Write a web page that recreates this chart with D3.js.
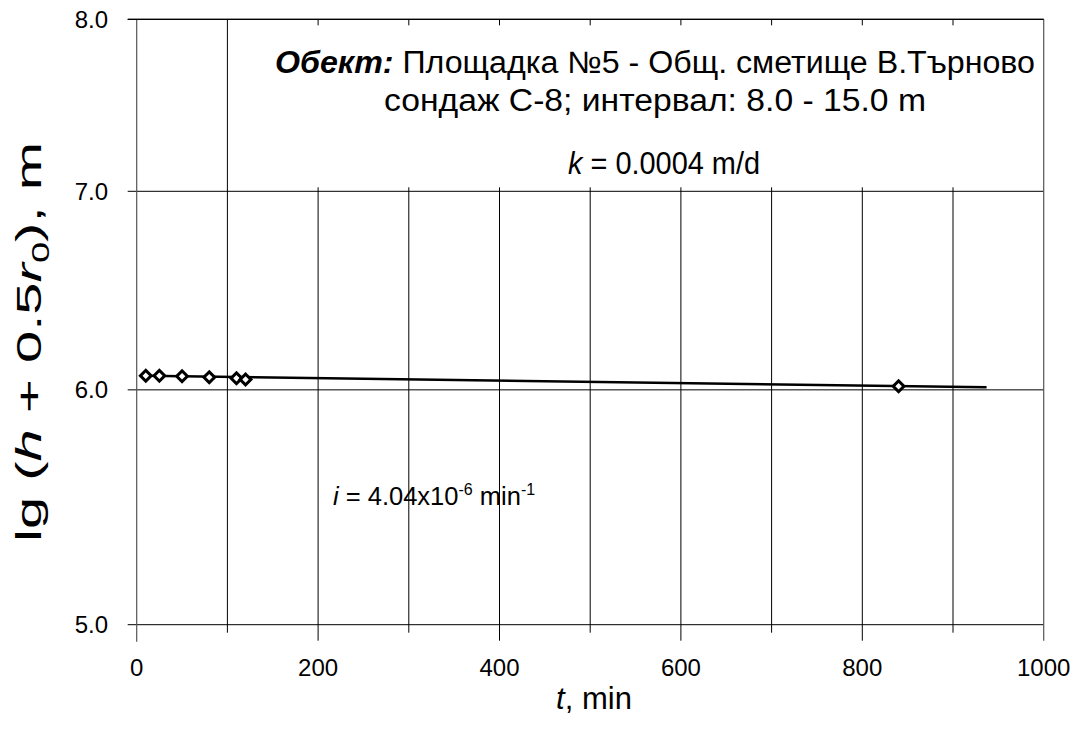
<!DOCTYPE html>
<html>
<head>
<meta charset="utf-8">
<script src="https://cdn.jsdelivr.net/npm/d3@7"></script>
<style>
  html, body { margin: 0; padding: 0; background: #fff; }
  svg { display: block; font-family: "Liberation Sans", Arial, sans-serif; }
</style>
</head>
<body>
<svg id="chart" width="1080" height="731"></svg>
<script>
// Measured times (min) and lg(h + 0.5 r0) values
const times = [10, 25, 50, 80, 110, 120, 840];
const levels = [6.066, 6.066, 6.064, 6.059, 6.054, 6.048, 6.017];

// Fitted trend line end points
const trendTimes = [10, 937];
const trendLevels = [6.066, 6.012];

// Axis ticks
const xTicks = [0, 200, 400, 600, 800, 1000];
const xGrid = [100, 200, 300, 400, 500, 600, 700, 800, 900];
const yTicks = [5, 6, 7, 8];
const yTickLabels = ["5.0", "6.0", "7.0", "8.0"];

const svg = d3.select("#chart");

const x = d3.scaleLinear().domain([0, 1000]).range([136.7, 1043.7]);
const y = d3.scaleLog().domain([5, 8]).range([624.7, 19.3]);

const yTop = y(8), yBot = y(5), xL = x(0), xR = x(1000);

// vertical grid lines, extended below the axis as tick marks
svg.append("g").selectAll("line").data(xGrid).join("line")
  .attr("x1", d => x(d)).attr("x2", d => x(d))
  .attr("y1", yTop)
  .attr("y2", d => yBot + (d % 200 === 0 ? 16 : 8))
  .attr("stroke", "#000").attr("stroke-width", 1);

// horizontal grid lines with outside ticks on the left
svg.append("g").selectAll("line").data(yTicks).join("line")
  .attr("x1", xL - 9).attr("x2", xR)
  .attr("y1", d => y(d)).attr("y2", d => y(d))
  .attr("stroke", "#000").attr("stroke-width", 1);

// white annotation panel in the upper part of the plot
svg.append("rect")
  .attr("x", 262).attr("y", yTop + 6)
  .attr("width", xR - 4 - 262).attr("height", y(7) - 4 - (yTop + 6))
  .attr("fill", "#fff");

// left axis and right border
svg.append("line")
  .attr("x1", xL).attr("x2", xL).attr("y1", yTop).attr("y2", yBot + 17)
  .attr("stroke", "#555").attr("stroke-width", 1.2);
svg.append("line")
  .attr("x1", xR).attr("x2", xR).attr("y1", yTop).attr("y2", yBot + 16)
  .attr("stroke", "#555").attr("stroke-width", 1.2);
svg.append("line")
  .attr("x1", xL - 9).attr("x2", xR).attr("y1", yTop).attr("y2", yTop)
  .attr("stroke", "#000").attr("stroke-width", 1.2);

// tick labels
svg.append("g").selectAll("text").data(xTicks).join("text")
  .attr("x", d => x(d)).attr("y", 676)
  .attr("text-anchor", "middle").attr("font-size", 24)
  .text(d => d);

svg.append("g").selectAll("text").data(yTicks).join("text")
  .attr("x", 108).attr("y", d => y(d) + 8.5)
  .attr("text-anchor", "end").attr("font-size", 24)
  .text((d, i) => yTickLabels[i]);

// axis titles
const xt = svg.append("text")
  .attr("x", 594).attr("y", 709).attr("text-anchor", "middle")
  .attr("font-size", 31);
xt.append("tspan").attr("font-style", "italic").text("t");
xt.append("tspan").text(", min");

const yt = svg.append("text")
  .attr("transform", "translate(41,342) rotate(-90)")
  .attr("text-anchor", "middle").attr("font-size", 35)
  .attr("textLength", 400).attr("lengthAdjust", "spacingAndGlyphs");
yt.append("tspan").text("lg (");
yt.append("tspan").attr("font-style", "italic").text("h");
yt.append("tspan").text(" + 0.5");
yt.append("tspan").attr("font-style", "italic").text("r");
yt.append("tspan").attr("font-size", 23).attr("dy", 8).text("0");
yt.append("tspan").attr("dy", -8).text("), m");

// annotation text
const narrow = "'Liberation Sans Narrow', 'Liberation Sans', Arial, sans-serif";
const t1 = svg.append("text")
  .attr("x", 275).attr("y", 73).attr("font-size", 31)
  .attr("font-family", narrow)
  .attr("textLength", 760).attr("lengthAdjust", "spacingAndGlyphs");
t1.append("tspan").attr("font-weight", "bold").attr("font-style", "italic").text("Обект:");
t1.append("tspan").text(" Площадка №5 - Общ. сметище В.Търново");

svg.append("text")
  .attr("x", 384).attr("y", 111).attr("font-size", 31)
  .attr("font-family", narrow)
  .attr("textLength", 542).attr("lengthAdjust", "spacingAndGlyphs")
  .text("сондаж С-8; интервал: 8.0 - 15.0 m");

const t3 = svg.append("text")
  .attr("x", 568).attr("y", 174).attr("font-size", 31)
  .attr("font-family", narrow)
  .attr("textLength", 192).attr("lengthAdjust", "spacingAndGlyphs");
t3.append("tspan").attr("font-style", "italic").text("k");
t3.append("tspan").text(" = 0.0004 m/d");

const ti = svg.append("text")
  .attr("x", 333).attr("y", 505).attr("font-size", 25.5);
ti.append("tspan").attr("font-style", "italic").text("i");
ti.append("tspan").text(" = 4.04x10");
ti.append("tspan").attr("font-size", 16).attr("dy", -10).text("-6");
ti.append("tspan").attr("dy", 10).text(" min");
ti.append("tspan").attr("font-size", 16).attr("dy", -10).text("-1");

// trend line
const trend = trendTimes.map((t, i) => [t, trendLevels[i]]);
svg.append("path")
  .datum(trend)
  .attr("d", d3.line().x(d => x(d[0])).y(d => y(d[1])))
  .attr("fill", "none").attr("stroke", "#000").attr("stroke-width", 2.4);

// observed points as diamonds
const pts = times.map((t, i) => [t, levels[i]]);
svg.append("g").selectAll("path").data(pts).join("path")
  .attr("transform", d => `translate(${x(d[0])},${y(d[1])}) rotate(45)`)
  .attr("d", d3.symbol(d3.symbolSquare, 58))
  .attr("fill", "#fff").attr("stroke", "#000").attr("stroke-width", 3);
</script>
</body>
</html>
